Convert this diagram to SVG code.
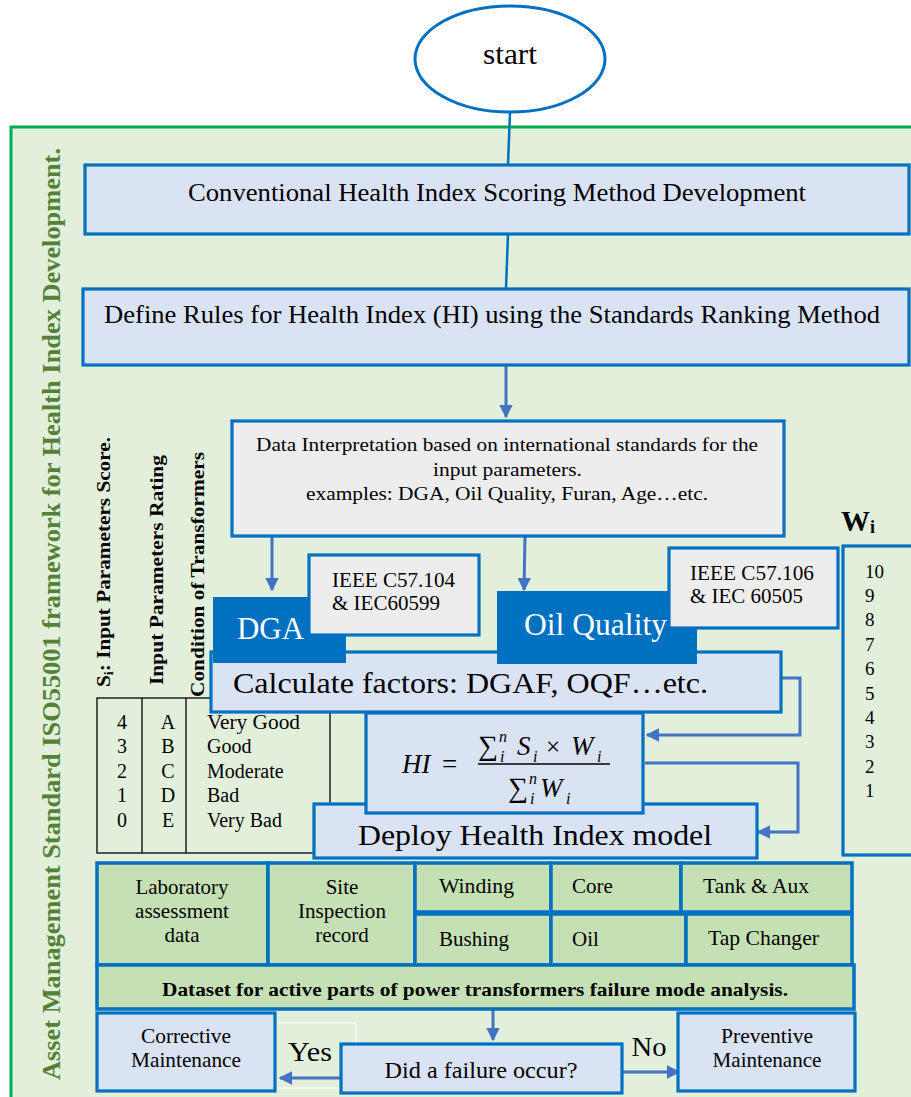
<svg xmlns="http://www.w3.org/2000/svg" width="911" height="1097" viewBox="0 0 911 1097" font-family="Liberation Serif, Times New Roman, serif">
<defs>
<style>
.t{font-family:"Liberation Serif","Times New Roman",serif;fill:#000}
.w{fill:#fff}
.b{font-weight:bold}
.it{font-style:italic}
.blue{fill:#DAE3F3;stroke:#0070C0;stroke-width:3.2}
.gray{fill:#EDEDED;stroke:#0070C0;stroke-width:3.2}
.dark{fill:#0070C0;stroke:#0070C0;stroke-width:2}
.grn{fill:#C5E0B4;stroke:#0070C0;stroke-width:3.5}
.ln{fill:none;stroke:#0070C0;stroke-width:2.5}
.ar{fill:none;stroke:#4472C4;stroke-width:3}
.tb{fill:none;stroke:#000;stroke-width:1.3}
</style>
<marker id="ah" viewBox="0 0 10 10" refX="9" refY="5" markerWidth="4.5" markerHeight="4.5" orient="auto" markerUnits="strokeWidth">
<path d="M0,0 L10,5 L0,10 z" fill="#4472C4"/>
</marker>
</defs>
<rect x="0" y="0" width="911" height="1097" fill="#fff"/>
<rect x="11" y="127" width="920" height="1000" fill="#E2EFDA" stroke="#00B050" stroke-width="3"/>
<text class="t b" font-size="26" style="fill:#538135" transform="translate(60,1080) rotate(-90)" textLength="932" lengthAdjust="spacingAndGlyphs">Asset Management Standard ISO55001 framework for Health Index Development.</text>

<g id="connectors">
<path class="ln" d="M510,112 L508,164"/>
<path class="ln" d="M508,234 L506,288"/>
<path class="ar" d="M506,365 L506,417" marker-end="url(#ah)"/>
<path class="ar" d="M272,536 L272,590" marker-end="url(#ah)"/>
<path class="ar" d="M525,536 L524,590" marker-end="url(#ah)"/>
<path class="ar" d="M777,678 H800 V735 H647" marker-end="url(#ah)"/>
<path class="ar" d="M645,763 H798 V832 H758" marker-end="url(#ah)"/>
<path class="ar" d="M493,1009 V1040" stroke-width="2.5" marker-end="url(#ah)"/>
<path class="ar" d="M340,1078 H280" stroke-width="4" marker-end="url(#ah)"/>
<path class="ar" d="M622,1072 H679" stroke-width="4" marker-end="url(#ah)"/>
</g>

<g id="start">
<ellipse cx="510" cy="59" rx="95" ry="53" fill="#fff" stroke="#0070C0" stroke-width="3"/>
<text class="t" x="510" y="64" font-size="29" text-anchor="middle" textLength="54" lengthAdjust="spacingAndGlyphs">start</text>
</g>

<g id="conventional">
<rect class="blue" x="85" y="165" width="824" height="69"/>
<text class="t" x="188" y="201" font-size="25" textLength="618" lengthAdjust="spacingAndGlyphs">Conventional Health Index Scoring Method Development</text>
</g>

<g id="define-rules">
<rect class="blue" x="83" y="289" width="826" height="76"/>
<text class="t" x="104" y="323" font-size="26" textLength="776" lengthAdjust="spacingAndGlyphs">Define Rules for Health Index (HI) using the Standards Ranking Method</text>
</g>

<g id="data-interpretation">
<rect class="gray" x="232" y="421" width="552" height="115"/>
<text class="t" x="256" y="451" font-size="18" textLength="502" lengthAdjust="spacingAndGlyphs">Data Interpretation based on international standards for the</text>
<text class="t" x="433" y="476" font-size="18" textLength="149" lengthAdjust="spacingAndGlyphs">input parameters.</text>
<text class="t" x="306" y="500" font-size="18" textLength="402" lengthAdjust="spacingAndGlyphs">examples: DGA, Oil Quality, Furan, Age…etc.</text>
</g>

<g id="table">
<rect class="tb" x="97" y="698" width="233" height="155"/>
<line class="tb" x1="142" y1="698" x2="142" y2="853"/>
<line class="tb" x1="186" y1="698" x2="186" y2="853"/>
<text class="t b" font-size="18" transform="translate(110,687) rotate(-90)" textLength="250" lengthAdjust="spacingAndGlyphs">S<tspan font-size="12" dy="3">i</tspan><tspan dy="-3">: Input Parameters Score.</tspan></text>
<text class="t b" font-size="18" transform="translate(163,685) rotate(-90)" textLength="230" lengthAdjust="spacingAndGlyphs">Input Parameters Rating</text>
<text class="t b" font-size="18" transform="translate(204,697) rotate(-90)" textLength="245" lengthAdjust="spacingAndGlyphs">Condition of Transformers</text>
<text class="t" x="122" y="729" font-size="20" text-anchor="middle">4</text>
<text class="t" x="122" y="753" font-size="20" text-anchor="middle">3</text>
<text class="t" x="122" y="778" font-size="20" text-anchor="middle">2</text>
<text class="t" x="122" y="802" font-size="20" text-anchor="middle">1</text>
<text class="t" x="122" y="827" font-size="20" text-anchor="middle">0</text>
<text class="t" x="168" y="729" font-size="20" text-anchor="middle">A</text>
<text class="t" x="168" y="753" font-size="20" text-anchor="middle">B</text>
<text class="t" x="168" y="778" font-size="20" text-anchor="middle">C</text>
<text class="t" x="168" y="802" font-size="20" text-anchor="middle">D</text>
<text class="t" x="168" y="827" font-size="20" text-anchor="middle">E</text>
<text class="t" x="207" y="729" font-size="20" textLength="93" lengthAdjust="spacingAndGlyphs">Very Good</text>
<text class="t" x="207" y="753" font-size="20">Good</text>
<text class="t" x="207" y="778" font-size="20">Moderate</text>
<text class="t" x="207" y="802" font-size="20">Bad</text>
<text class="t" x="207" y="827" font-size="20">Very Bad</text>
</g>

<g id="weights">
<text class="t b" x="841" y="531" font-size="29">W<tspan font-size="18" dy="2">i</tspan></text>
<rect x="843" y="546" width="80" height="309" fill="none" stroke="#0070C0" stroke-width="3.2"/>
<text class="t" x="865" y="578" font-size="19">10</text>
<text class="t" x="865" y="602" font-size="19">9</text>
<text class="t" x="865" y="626" font-size="19">8</text>
<text class="t" x="865" y="651" font-size="19">7</text>
<text class="t" x="865" y="675" font-size="19">6</text>
<text class="t" x="865" y="700" font-size="19">5</text>
<text class="t" x="865" y="724" font-size="19">4</text>
<text class="t" x="865" y="748" font-size="19">3</text>
<text class="t" x="865" y="773" font-size="19">2</text>
<text class="t" x="865" y="797" font-size="19">1</text>
</g>

<g id="calculate-factors">
<rect class="blue" x="211" y="652" width="570" height="60"/>
<text class="t" x="233" y="693" font-size="30" textLength="475" lengthAdjust="spacingAndGlyphs">Calculate factors: DGAF, OQF…etc.</text>
</g>

<g id="dga">
<rect class="dark" x="214" y="598" width="131" height="64"/>
<text class="t" x="237" y="639" font-size="31" style="fill:#fff" textLength="67" lengthAdjust="spacingAndGlyphs">DGA</text>
</g>

<g id="ieee-c57-104">
<rect class="gray" x="309" y="555" width="170" height="80"/>
<text class="t" x="332" y="587" font-size="20" textLength="123" lengthAdjust="spacingAndGlyphs">IEEE C57.104</text>
<text class="t" x="332" y="610" font-size="20" textLength="108" lengthAdjust="spacingAndGlyphs">&amp; IEC60599</text>
</g>

<g id="oil-quality">
<rect class="dark" x="498" y="592" width="198" height="71"/>
<text class="t" x="524" y="635" font-size="31" style="fill:#fff" textLength="143" lengthAdjust="spacingAndGlyphs">Oil Quality</text>
</g>

<g id="ieee-c57-106">
<rect class="gray" x="669" y="548" width="169" height="80"/>
<text class="t" x="690" y="580" font-size="20" textLength="124" lengthAdjust="spacingAndGlyphs">IEEE C57.106</text>
<text class="t" x="690" y="603" font-size="20" textLength="113" lengthAdjust="spacingAndGlyphs">&amp; IEC 60505</text>
</g>

<g id="deploy">
<rect class="blue" x="314" y="804" width="443" height="54"/>
<text class="t" x="358" y="845" font-size="30" textLength="354" lengthAdjust="spacingAndGlyphs">Deploy Health Index model</text>
</g>

<g id="formula">
<rect class="blue" x="366" y="713" width="277" height="100"/>
<text class="t it" x="402" y="773" font-size="27">HI</text>
<text class="t" x="442" y="773" font-size="27">=</text>
<text class="t" x="478" y="755" font-size="28">∑</text>
<text class="t it" x="499" y="742" font-size="16">n</text>
<text class="t it" x="500" y="762" font-size="16">i</text>
<text class="t it" x="517" y="755" font-size="27">S</text>
<text class="t it" x="533" y="762" font-size="16">i</text>
<text class="t" x="546" y="755" font-size="25">×</text>
<text class="t it" x="571" y="755" font-size="27">W</text>
<text class="t it" x="597" y="762" font-size="16">i</text>
<line x1="478" y1="764" x2="610" y2="764" stroke="#000" stroke-width="1.5"/>
<text class="t" x="508" y="797" font-size="28">∑</text>
<text class="t it" x="529" y="784" font-size="16">n</text>
<text class="t it" x="530" y="804" font-size="16">i</text>
<text class="t it" x="540" y="797" font-size="27">W</text>
<text class="t it" x="566" y="804" font-size="16">i</text>
</g>

<g id="laboratory">
<rect class="grn" x="97" y="863" width="171" height="102"/>
<text class="t" x="182" y="894" font-size="21" text-anchor="middle" textLength="93" lengthAdjust="spacingAndGlyphs">Laboratory</text>
<text class="t" x="182" y="918" font-size="21" text-anchor="middle" textLength="94" lengthAdjust="spacingAndGlyphs">assessment</text>
<text class="t" x="182" y="942" font-size="21" text-anchor="middle">data</text>
</g>
<g id="site-inspection">
<rect class="grn" x="268" y="863" width="147" height="102"/>
<text class="t" x="342" y="894" font-size="21" text-anchor="middle">Site</text>
<text class="t" x="342" y="918" font-size="21" text-anchor="middle" textLength="88" lengthAdjust="spacingAndGlyphs">Inspection</text>
<text class="t" x="342" y="942" font-size="21" text-anchor="middle">record</text>
</g>
<g id="winding">
<rect class="grn" x="415" y="863" width="136" height="49"/>
<text class="t" x="439" y="893" font-size="21" textLength="75" lengthAdjust="spacingAndGlyphs">Winding</text>
</g>
<g id="core">
<rect class="grn" x="551" y="863" width="130" height="49"/>
<text class="t" x="572" y="893" font-size="21">Core</text>
</g>
<g id="tank-aux">
<rect class="grn" x="681" y="863" width="171" height="49"/>
<text class="t" x="703" y="893" font-size="21" textLength="106" lengthAdjust="spacingAndGlyphs">Tank &amp; Aux</text>
</g>
<g id="bushing">
<rect class="grn" x="415" y="914" width="136" height="51"/>
<text class="t" x="439" y="946" font-size="21" textLength="70" lengthAdjust="spacingAndGlyphs">Bushing</text>
</g>
<g id="oil">
<rect class="grn" x="551" y="914" width="135" height="51"/>
<text class="t" x="572" y="946" font-size="21">Oil</text>
</g>
<g id="tap-changer">
<rect class="grn" x="686" y="914" width="166" height="51"/>
<text class="t" x="708" y="945" font-size="21" textLength="111" lengthAdjust="spacingAndGlyphs">Tap Changer</text>
</g>
<g id="dataset">
<rect class="grn" x="97" y="965" width="757" height="44"/>
<text class="t b" x="162" y="996" font-size="19" textLength="626" lengthAdjust="spacingAndGlyphs">Dataset for active parts of power transformers failure mode analysis.</text>
</g>

<rect x="275" y="1023" width="81" height="65" fill="none" stroke="#fff" stroke-width="1"/>
<g id="corrective">
<rect class="blue" x="97" y="1013" width="178" height="78"/>
<text class="t" x="186" y="1043" font-size="21" text-anchor="middle" textLength="90" lengthAdjust="spacingAndGlyphs">Corrective</text>
<text class="t" x="186" y="1067" font-size="21" text-anchor="middle" textLength="110" lengthAdjust="spacingAndGlyphs">Maintenance</text>
</g>
<g id="preventive">
<rect class="blue" x="678" y="1013" width="177" height="78"/>
<text class="t" x="767" y="1043" font-size="21" text-anchor="middle" textLength="92" lengthAdjust="spacingAndGlyphs">Preventive</text>
<text class="t" x="767" y="1067" font-size="21" text-anchor="middle" textLength="109" lengthAdjust="spacingAndGlyphs">Maintenance</text>
</g>
<g id="failure-decision">
<rect class="blue" x="341" y="1044" width="281" height="49"/>
<text class="t" x="481" y="1078" font-size="23" text-anchor="middle" textLength="193" lengthAdjust="spacingAndGlyphs">Did a failure occur?</text>
</g>
<text class="t" x="310" y="1061" font-size="28" text-anchor="middle" textLength="44" lengthAdjust="spacingAndGlyphs">Yes</text>
<text class="t" x="649" y="1056" font-size="28" text-anchor="middle" textLength="35" lengthAdjust="spacingAndGlyphs">No</text>
</svg>
